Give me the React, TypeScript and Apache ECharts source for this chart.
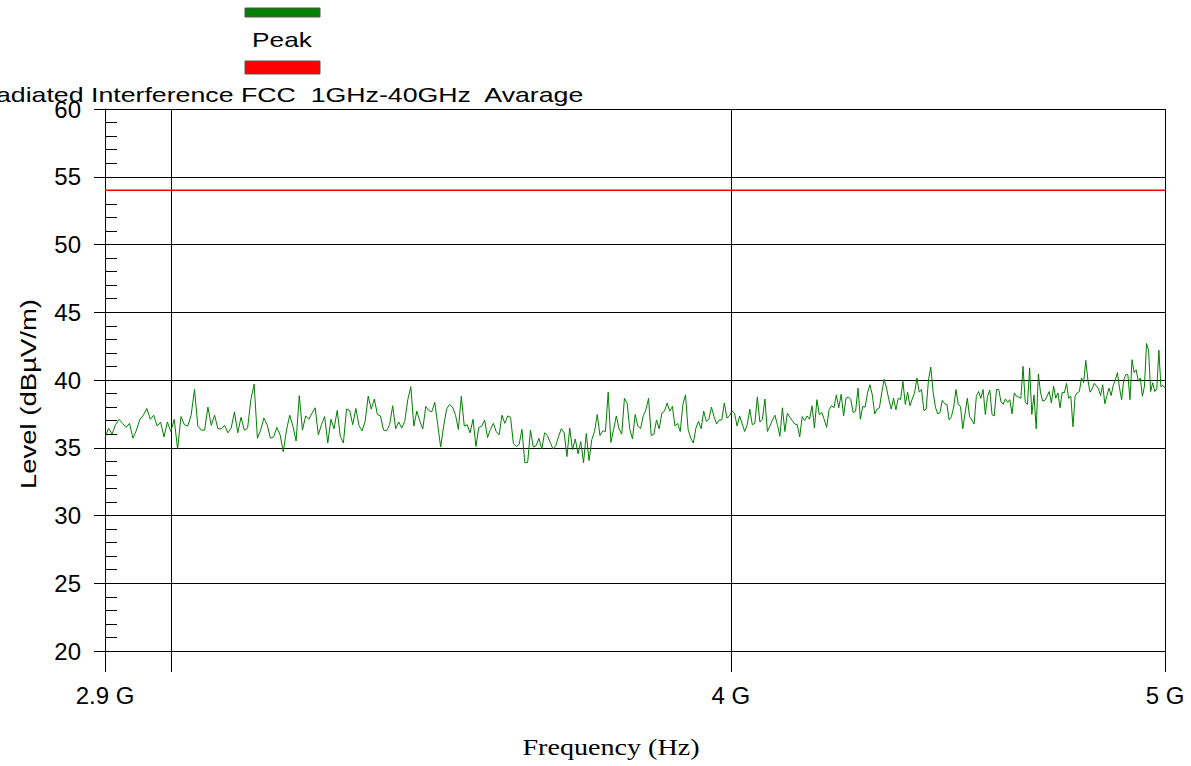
import { useEffect, useRef } from "react";
import * as echarts from "echarts";

// ---- Data ----
const sweepStartMHz = 2900;
const sweepStopMHz = 5000;

const peakName = "Peak";
const limitName = "Radiated Interference FCC  1GHz-40GHz  Avarage";

// Peak level trace, dBµV/m, one value per sweep point (2900 MHz .. 5000 MHz)
const peakLevels: number[] = [
  // 2.90 - 3.16 GHz
  35.7, 36.45, 36.0, 36.7, 37.1, 36.8, 36.5, 36.8, 35.7, 36.3,
  37.1, 37.4, 37.9, 37.1, 37.4, 36.6, 36.9, 35.8, 36.9, 36.2,
  37.1, 34.9, 37.3, 36.7, 36.6, 37.4, 39.3, 36.6, 36.3, 36.3,
  38.0, 36.65, 37.4, 36.4, 36.4, 36.65, 36.1, 36.45, 37.65, 36.1,
  37.25, 36.3, 36.45, 38.55, 39.7, 35.7, 36.3, 37.2, 36.7, 35.7,
  35.8,
  // 3.16 - 3.47 GHz
  36.5, 35.95, 34.7, 36.3, 37.4, 36.6, 35.5, 38.85, 36.3, 37.35,
  37.1, 37.55, 37.95, 35.95, 36.7, 37.3, 35.35, 37.1, 36.4, 37.75,
  35.85, 35.35, 37.85, 37.75, 36.7, 37.9, 36.65, 36.25, 36.95, 38.8,
  37.85, 38.6, 37.45, 37.35, 36.3, 36.25, 36.7, 38.1, 36.4, 36.9,
  36.45, 36.95, 38.55, 39.5, 36.6, 37.7, 36.95, 36.4, 38.05, 37.75,
  37.65, 38.35, 36.7, 35.05, 36.6, 37.85, 38.2, 38.0, 37.45,
  // 3.47 - 3.81 GHz
  36.35, 38.8, 36.6, 36.7, 36.1, 37.1, 35.1, 36.5, 36.6, 37.05,
  35.75, 36.35, 36.8, 36.2, 35.95, 37.4, 36.8, 37.35, 37.25, 35.3,
  35.1, 35.25, 36.35, 33.9, 33.9, 36.3, 35.05, 35.15, 35.7, 34.9,
  36.1, 35.9, 35.4, 34.9, 35.15, 35.85, 36.4, 36.1, 34.35, 36.45,
  34.85, 35.65, 34.55, 35.45, 33.9, 36.05, 34.05, 35.6, 36.2, 37.45,
  35.9, 36.25, 36.2, 39.1, 35.4, 36.35, 37.35, 36.4, 36.0, 38.65,
  38.3, 36.35, 35.65, 37.45,
  // 3.81 - 4.18 GHz
  36.6, 36.4, 37.35, 37.8, 38.65, 35.9, 36.0, 37.05, 36.4, 37.55,
  37.7, 38.3, 37.7, 38.05, 36.6, 36.8, 36.2, 38.2, 38.9, 36.35,
  35.7, 35.35, 36.45, 36.95, 36.4, 37.7, 36.95, 37.1, 38.0, 37.3,
  36.75, 37.05, 37.05, 38.3, 37.2, 37.35, 37.7, 37.55, 36.6, 37.35,
  36.75, 36.2, 36.7, 37.85, 36.7, 36.8, 38.75, 36.9, 37.1, 38.6,
  36.2, 36.6, 37.05, 37.4, 36.7, 35.85, 37.95, 36.2, 37.55, 37.25,
  37.0, 36.75, 36.7, 35.8, 37.3, 37.0, 37.35, 37.1, 38.1, 36.45,
  // 4.18 - 4.57 GHz
  38.55, 37.45, 37.6, 37.1, 36.5, 37.8, 38.1, 37.95, 38.9, 37.95,
  38.95, 37.35, 38.65, 38.75, 38.55, 37.6, 37.7, 39.4, 37.1, 38.05,
  38.0, 39.05, 39.65, 38.9, 37.5, 37.85, 37.95, 39.05, 40.05, 39.4,
  38.55, 37.85, 38.65, 37.8, 38.65, 38.55, 39.9, 38.2, 39.1, 38.1,
  38.6, 39.05, 40.15, 39.1, 39.3, 37.75, 37.85, 40.0, 40.95, 39.15,
  38.0, 37.5, 37.6, 38.5, 38.25, 38.2, 37.05, 37.3, 38.0, 39.3,
  38.2, 38.05, 36.4, 37.55, 38.65, 37.3, 37.05, 36.75, 38.8, 39.15,
  38.65, 39.3, 37.45, 38.8, 39.25, 37.45,
  // 4.57 - 5.00 GHz
  37.35, 39.3, 39.3, 38.4, 38.2, 38.6, 38.35, 38.55, 37.5, 39.05,
  38.8, 38.75, 38.65, 41.0, 38.35, 38.2, 40.9, 37.45, 38.9, 36.4,
  40.45, 39.05, 38.45, 38.5, 38.8, 39.15, 38.3, 39.55, 38.65, 39.05,
  37.95, 39.1, 39.05, 39.75, 38.65, 38.8, 36.55, 38.8, 39.05, 39.15,
  40.15, 39.8, 41.45, 40.0, 39.1, 39.35, 39.75, 39.55, 39.35, 38.85,
  39.65, 38.25, 38.85, 39.4, 38.85, 39.6, 40.0, 40.55, 39.4, 38.55,
  40.0, 40.4, 40.4, 38.55, 41.5, 40.55, 40.75, 39.9, 40.15, 38.8,
  39.55, 42.7, 42.2, 39.15, 39.8, 39.15, 39.35, 42.2, 39.5, 39.6,
  39.4,
];

// Limit line
const limitFreqMHz = [2900, 5000];
const limitLevels = [54, 54];

// Axes
const xLabelFreqMHz = [2900, 4000, 5000];
const xTickFreqMHz = [2900, 3000, 4000, 5000];
const yMin = 20;
const yMax = 60;
const yStep = 5;

const SANS = "'Liberation Sans', Arial, Helvetica, sans-serif";
const SERIF = "'Liberation Serif', 'Times New Roman', Times, serif";

const lg = (mhz: number) => Math.log10(mhz);

function sweepFreq(i: number, n: number) {
  return sweepStartMHz + ((sweepStopMHz - sweepStartMHz) * i) / (n - 1);
}

export default function App() {
  const ref = useRef<HTMLDivElement>(null);

  useEffect(() => {
    if (!ref.current) return;
    const chart = echarts.init(ref.current, undefined, { renderer: "svg" });

    const n = peakLevels.length;
    const peakData = peakLevels.map((v, i) => [lg(sweepFreq(i, n)), v]);
    const limitData = limitFreqMHz.map((f, i) => [lg(f), limitLevels[i]]);

    const xMin = lg(sweepStartMHz);
    const xMax = lg(sweepStopMHz);

    const fmtG = (v: number) => {
      const g = Math.round(Math.pow(10, v) / 100) / 10;
      return g + " G";
    };

    chart.setOption({
      animation: false,
      backgroundColor: "#ffffff",
      grid: { left: 105, top: 109, width: 1060, height: 542, containLabel: false },
      xAxis: {
        type: "value",
        min: xMin,
        max: xMax,
        axisLine: { show: true, lineStyle: { color: "#000", width: 1 } },
        axisTick: {
          show: true,
          customValues: xTickFreqMHz.map(lg),
          length: 21,
          inside: false,
          lineStyle: { color: "#000", width: 1 },
        },
        axisLabel: {
          show: true,
          customValues: xLabelFreqMHz.map(lg),
          formatter: (v: number) => fmtG(v),
          fontFamily: SANS,
          fontSize: 24,
          color: "#000",
          margin: 32,
        },
        splitLine: { show: true, lineStyle: { color: "#000", width: 1 } },
      },
      yAxis: [
        {
          type: "value",
          min: yMin,
          max: yMax,
          interval: yStep,
          position: "left",
          axisLine: { show: true, lineStyle: { color: "#000", width: 1 } },
          axisTick: { show: true, length: 11, inside: false, lineStyle: { color: "#000", width: 1 } },
          axisLabel: { fontFamily: SANS, fontSize: 24, color: "#000", margin: 24 },
          splitLine: { show: true, lineStyle: { color: "#000", width: 1 } },
        },
        {
          type: "value",
          min: yMin,
          max: yMax,
          interval: yStep,
          position: "left",
          offset: 0,
          axisLine: { show: false },
          axisLabel: { show: false },
          axisTick: { show: true, inside: true, length: 12, lineStyle: { color: "#000", width: 1 } },
          minorTick: { show: true, splitNumber: 5, length: 12, lineStyle: { color: "#000", width: 1 } },
          splitLine: { show: false },
        },
      ],
      series: [
        {
          name: limitName,
          type: "line",
          data: limitData,
          showSymbol: false,
          symbol: "none",
          lineStyle: { color: "#ff0000", width: 1.6 },
          itemStyle: { color: "#ff0000" },
          z: 3,
        },
        {
          name: peakName,
          type: "line",
          data: peakData,
          showSymbol: false,
          symbol: "none",
          lineStyle: { color: "#008000", width: 1 },
          itemStyle: { color: "#008000" },
          z: 4,
        },
      ],
      graphic: [
        {
          type: "rect",
          shape: { x: 245, y: 8, width: 75, height: 9 },
          style: { fill: "#008000", stroke: "#555", lineWidth: 1 },
        },
        {
          type: "text",
          x: 282,
          y: 39.5,
          scaleX: 1.25,
          style: {
            text: peakName,
            font: `21px ${SANS}`,
            fill: "#000",
            align: "center",
            verticalAlign: "middle",
            textAlign: "center",
            textVerticalAlign: "middle",
          },
        },
        {
          type: "rect",
          shape: { x: 245, y: 61, width: 75, height: 13 },
          style: { fill: "#ff0000", stroke: "#555", lineWidth: 1 },
        },
        {
          type: "text",
          x: 280,
          y: 94.5,
          scaleX: 1.273,
          style: {
            text: limitName,
            font: `21px ${SANS}`,
            fill: "#000",
            align: "center",
            verticalAlign: "middle",
            textAlign: "center",
            textVerticalAlign: "middle",
          },
        },
        {
          type: "text",
          x: 28.5,
          y: 394,
          rotation: Math.PI / 2,
          scaleX: 1.25,
          style: {
            text: "Level (dBµV/m)",
            font: `22px ${SANS}`,
            fill: "#000",
            align: "center",
            verticalAlign: "middle",
            textAlign: "center",
            textVerticalAlign: "middle",
          },
        },
        {
          type: "text",
          x: 611,
          y: 747,
          scaleX: 1.25,
          style: {
            text: "Frequency (Hz)",
            font: `22.5px ${SERIF}`,
            fill: "#000",
            align: "center",
            verticalAlign: "middle",
            textAlign: "center",
            textVerticalAlign: "middle",
          },
        },
      ],
    });

    return () => {
      chart.dispose();
    };
  }, []);

  return (
    <div
      ref={ref}
      style={{ position: "absolute", left: 0, top: 0, width: 1191, height: 766, background: "#fff" }}
    />
  );
}
